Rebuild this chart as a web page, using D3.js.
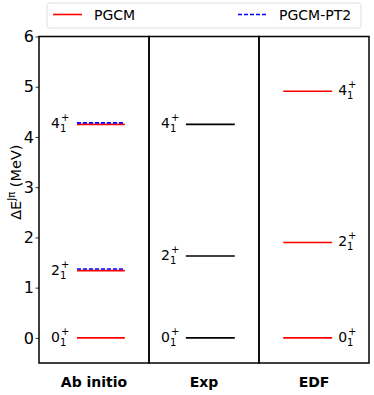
<!DOCTYPE html>
<head>
<meta charset="utf-8">
<script src="https://d3js.org/d3.v7.min.js"></script>
<style>
  body { margin: 0; background: #fff; }
  text { font-family: "DejaVu Sans", sans-serif; }
</style>
</head>
<body>
<div id="vis"></div>
<script>
// columns of the level scheme
const columns = ['Ab initio', 'Exp', 'EDF']
const spins = ['0', '2', '4']
const pgcm = [0, 1.34, 4.25]
const pgcmPT2 = [0, 1.37, 4.28]
const expLevels = [0, 1.63, 4.25]
const edfLevels = [0, 1.90, 4.91]
const yTicks = [0, 1, 2, 3, 4, 5, 6]

const width = 374, height = 395
const margin = { top: 36.5, right: 5, bottom: 32, left: 39 }

const svg = d3.select('#vis').append('svg')
  .attr('width', width).attr('height', height)

const x = d3.scaleBand().domain(columns)
  .range([margin.left, width - margin.right]).padding(0)
const y = d3.scaleLinear().domain([-0.5, 6])
  .range([height - margin.bottom, margin.top])

// y axis
const yAxis = svg.append('g')
  .attr('transform', `translate(${margin.left},0)`)
  .call(d3.axisLeft(y).tickValues(yTicks).tickFormat(d3.format('d')).tickSize(3.5).tickPadding(1.5))
yAxis.select('.domain').remove()
yAxis.selectAll('text').style('font-size', '16px').style('font-family', '"DejaVu Sans", sans-serif').attr('fill', '#000')
yAxis.selectAll('line').attr('stroke', '#000').attr('stroke-width', 0.8)

const ylab = svg.append('text')
  .attr('transform', `translate(20.5,${y(3.1)}) rotate(-90)`)
  .attr('text-anchor', 'middle')
  .style('font-size', '14.5px')
ylab.append('tspan').text('ΔE')
ylab.append('tspan').attr('dy', -6).style('font-size', '10px').text('Jπ')
ylab.append('tspan').attr('dy', 6).text(' (MeV)')

// panel frames
columns.forEach(c => {
  svg.append('rect')
    .attr('x', x(c)).attr('y', y(6))
    .attr('width', x.bandwidth()).attr('height', y(-0.5) - y(6))
    .attr('fill', 'none').attr('stroke', '#000').attr('stroke-width', 1.5)
})

// column labels
svg.selectAll('.collab').data(columns).enter().append('text')
  .attr('x', d => x(d) + x.bandwidth() / 2)
  .attr('y', height - 8)
  .attr('text-anchor', 'middle')
  .style('font-size', '14px').style('font-weight', 'bold')
  .text(d => d)

const bw = x.bandwidth()
function levels (col, vals, color, dash, x0, x1) {
  svg.selectAll(null).data(vals).enter().append('line')
    .attr('x1', x(col) + bw * x0).attr('x2', x(col) + bw * x1)
    .attr('y1', d => y(d)).attr('y2', d => y(d))
    .attr('stroke', color).attr('stroke-width', 1.6)
    .attr('stroke-dasharray', dash)
}
function spinLabels (col, vals, xpos, anchor) {
  vals.forEach((v, i) => {
    const t = svg.append('text')
      .attr('x', x(col) + bw * xpos).attr('y', y(v) + 4)
      .attr('text-anchor', anchor)
      .style('font-size', '14px')
    t.append('tspan').text(spins[i])
    t.append('tspan').attr('dy', 4).style('font-size', '10px').text('1')
    t.append('tspan').attr('dx', -5.5).attr('dy', -11).style('font-size', '10px').text('+')
  })
}

levels('Ab initio', pgcm, 'red', null, 0.345, 0.78)
levels('Ab initio', pgcmPT2.slice(1), 'blue', '4,2', 0.345, 0.78)
levels('Exp', expLevels, '#000', null, 0.335, 0.78)
levels('EDF', edfLevels, 'red', null, 0.22, 0.665)

spinLabels('Ab initio', pgcm, 0.11, 'start')
spinLabels('Exp', expLevels, 0.11, 'start')
spinLabels('EDF', edfLevels, 0.72, 'start')

// legend
const lg = svg.append('g')
lg.append('rect').attr('x', 47).attr('y', 3).attr('width', 314).attr('height', 25)
  .attr('rx', 3).attr('fill', '#fff').attr('stroke', '#ddd')
lg.append('line').attr('x1', 53).attr('x2', 82).attr('y1', 14.5).attr('y2', 14.5)
  .attr('stroke', 'red').attr('stroke-width', 1.6)
lg.append('text').attr('x', 94).attr('y', 20).style('font-size', '14px').text('PGCM')
lg.append('line').attr('x1', 238).attr('x2', 268).attr('y1', 14.5).attr('y2', 14.5)
  .attr('stroke', 'blue').attr('stroke-width', 1.6).attr('stroke-dasharray', '4,2')
lg.append('text').attr('x', 279).attr('y', 20).style('font-size', '14px').text('PGCM-PT2')
</script>
</body>
